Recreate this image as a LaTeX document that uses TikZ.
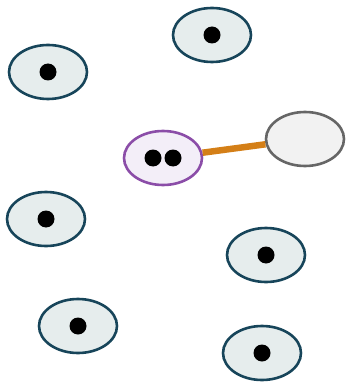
\documentclass[tikz,border=0pt]{standalone}
\usetikzlibrary{shapes.geometric}
\definecolor{tealline}{HTML}{17455A}
\definecolor{tealfill}{HTML}{E6EDED}
\definecolor{purpline}{HTML}{8B4DA8}
\definecolor{purpfill}{HTML}{F3EEF8}
\definecolor{greyline}{HTML}{666666}
\definecolor{greyfill}{HTML}{F2F2F2}
\definecolor{linkorange}{HTML}{D47F17}
\tikzset{
  cell/.style={ellipse, draw=tealline, fill=tealfill, line width=2.6pt,
    minimum width=78pt, minimum height=54pt, inner sep=0pt},
  hub/.style={cell, draw=purpline, fill=purpfill},
  empty/.style={cell, draw=greyline, fill=greyfill}
}
\begin{document}
\begin{tikzpicture}[x=1pt, y=-1pt]
\useasboundingbox (0,0) rectangle (347,382);
\foreach \x/\y [count=\i] in {48/72, 212/35, 46/219, 266/255, 78/326, 262/353}
{
    \node[cell] (e\i) at (\x,\y) {};
    \fill (e\i.center) circle (8.5pt);
}
\node[hub] (hub) at (163,158) {};
\node[empty] (free) at (305,139) {};
\draw[linkorange, line width=6.5pt] (hub) -- (free);
\fill ([xshift=-10pt]hub.center) circle (8.5pt);
\fill ([xshift=10pt]hub.center) circle (8.5pt);
\end{tikzpicture}
\end{document}
